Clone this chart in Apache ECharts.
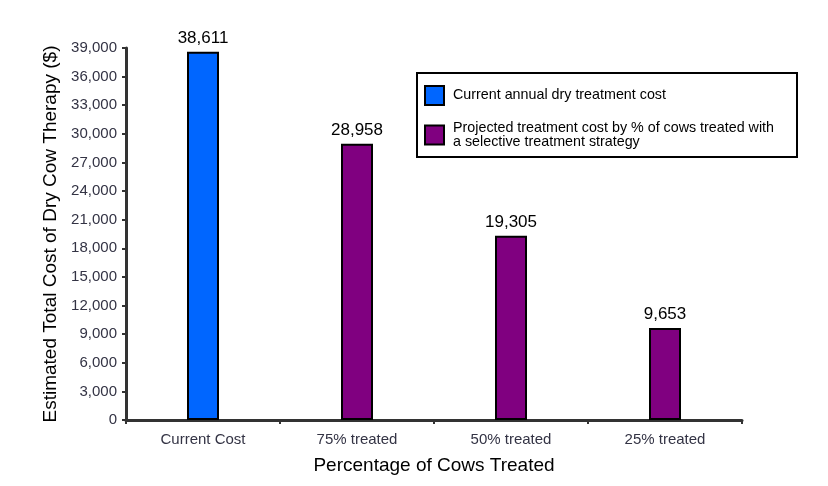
<!DOCTYPE html>
<html>
<head>
<meta charset="utf-8">
<script src="https://cdn.jsdelivr.net/npm/echarts@6/dist/echarts.min.js"></script>
<style>html,body{margin:0;padding:0;background:#fff}#c{width:828px;height:486px}</style>
</head>
<body>
<div id="c"></div>
<script>
var categories = ['Current Cost', '75% treated', '50% treated', '25% treated'];
var currentCost = [38611, '-', '-', '-'];
var projectedCost = ['-', 28958, 19305, 9653];
var seriesNames = ['Current annual dry treatment cost', 'Projected treatment cost by % of cows treated with a selective treatment strategy'];

var chart = echarts.init(document.getElementById('c'));
var labelOpt = {
  show: true, position: 'top', distance: 5, color: '#000', fontSize: 17,
  fontFamily: 'Liberation Sans, Arial, sans-serif',
  formatter: function (p) { return p.value.toLocaleString('en-US'); }
};
chart.setOption({
  animation: false,
  textStyle: { fontFamily: 'Liberation Sans, Arial, sans-serif' },
  grid: { left: 126, right: 86, top: 48, bottom: 66, containLabel: false },
  graphic: [{
    type: 'rect', left: 416, top: 72,
    shape: { width: 380, height: 84 },
    style: { fill: '#fff', stroke: '#000', lineWidth: 2 },
    z: 0
  }],
  legend: {
    orient: 'vertical', left: 424, top: 85, padding: 0, itemWidth: 19, itemHeight: 19, itemGap: 15,
    z: 10,
    textStyle: { fontSize: 14.3, color: '#000', lineHeight: 14, padding: [0,0,0,4] },
    formatter: function (n) {
      return n === seriesNames[1] ? 'Projected treatment cost by % of cows treated with\na selective treatment strategy' : n;
    },
    data: seriesNames.map(function (n) { return { name: n, icon: 'rect' }; })
  },
  xAxis: {
    type: 'category', data: categories,
    name: 'Percentage of Cows Treated', nameLocation: 'middle', nameGap: 36,
    nameTextStyle: { fontSize: 19, color: '#000' },
    axisLine: { lineStyle: { color: '#333', width: 3 } },
    axisTick: { show: true, length: 4, lineStyle: { color: '#333', width: 2 } },
    axisLabel: { fontSize: 15, color: '#333344', margin: 12 }
  },
  yAxis: {
    type: 'value', min: 0, max: 39000, interval: 3000,
    name: 'Estimated Total Cost of Dry Cow Therapy ($)', nameLocation: 'middle', nameGap: 64,
    nameTextStyle: { fontSize: 19, color: '#000' },
    axisLine: { show: true, lineStyle: { color: '#333', width: 3 } },
    axisTick: { show: true, length: 4, lineStyle: { color: '#333', width: 2 } },
    splitLine: { show: false },
    axisLabel: { fontSize: 15, color: '#333344', margin: 9,
      formatter: function (v) { return v.toLocaleString('en-US'); } }
  },
  series: [{
    name: seriesNames[0], type: 'bar', stack: 's', data: currentCost, barWidth: 32,
    itemStyle: { color: '#0066FF', borderColor: '#000', borderWidth: 2 },
    label: labelOpt
  }, {
    name: seriesNames[1], type: 'bar', stack: 's', data: projectedCost, barWidth: 32,
    itemStyle: { color: '#800080', borderColor: '#000', borderWidth: 2 },
    label: labelOpt
  }]
});
</script>
</body>
</html>
